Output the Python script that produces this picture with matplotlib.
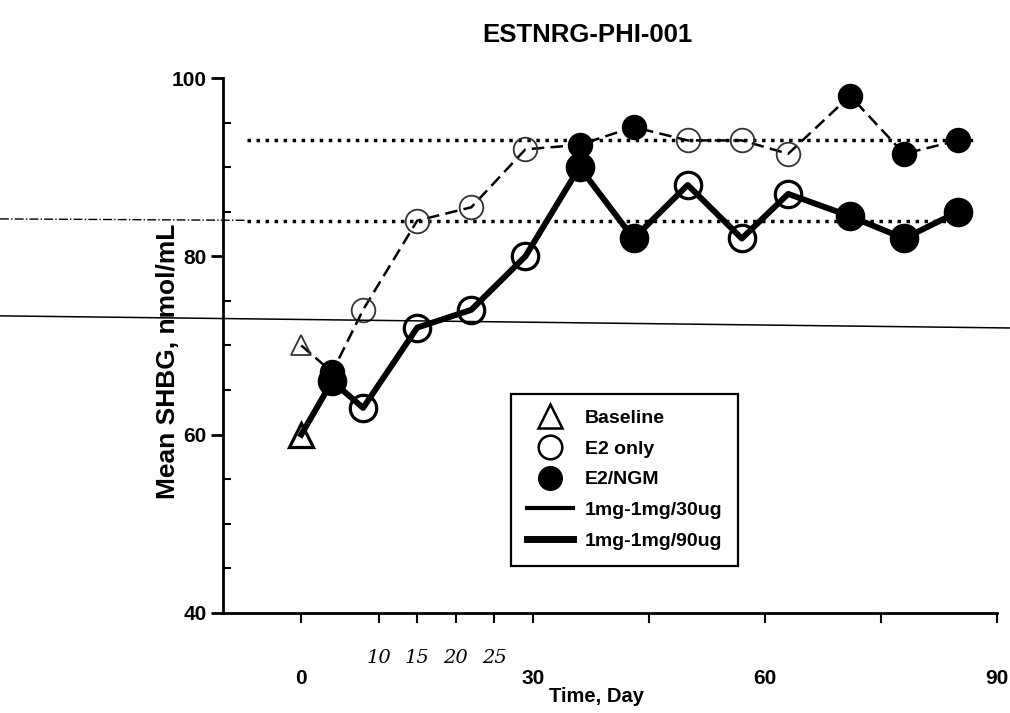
import matplotlib.pyplot as plt
from matplotlib.lines import Line2D

# study days and which regimen phase each visit falls in
days = [0, 4, 8, 15, 22, 29, 36, 43, 50, 57, 63, 71, 78, 85]
phase = ['base', 'ngm', 'e2', 'e2', 'e2', 'e2', 'ngm', 'ngm',
         'e2', 'e2', 'e2', 'ngm', 'ngm', 'ngm']

# mean SHBG, nmol/mL
shbg_30ug = [70, 67, 74, 84, 85.5, 92, 92.5, 94.5, 93, 93, 91.5, 98, 91.5, 93]
shbg_90ug = [60, 66, 63, 72, 74, 80, 90, 82, 88, 82, 87, 84.5, 82, 85]

# dotted reference levels
ref_30ug = 93
ref_90ug = 84
ref_30ug_days = [-7, 87]
ref_90ug_days = [-7, 84]

xticks = [0, 10, 15, 20, 25, 30, 45, 60, 75, 90]
xtick_labels = ['0', '', '', '', '', '30', '', '60', '', '90']
hand_ticks = [10, 15, 20, 25]
hand_labels = ['10', '15', '20', '25']

plt.rcParams['font.family'] = ['Liberation Sans', 'DejaVu Sans']

fig = plt.figure(figsize=(10.1, 7.13), dpi=100)
ax = fig.add_axes([0.221, 0.1403, 0.766, 0.7503])


def draw_series(vals, lw, ms, mew, ec, z, ls='-'):
    ax.plot(days, vals, color='black', lw=lw, ls=ls, zorder=z)
    for d, v, p in zip(days, vals, phase):
        if p == 'base':
            ax.plot(d, v, marker='^', ms=ms - 2, mfc='none', mec=ec, mew=mew, zorder=z + 1)
        elif p == 'e2':
            ax.plot(d, v, marker='o', ms=ms, mfc='none', mec=ec, mew=mew, zorder=z + 1)
        else:
            ax.plot(d, v, marker='o', ms=ms, mfc='black', mec='black', mew=mew, zorder=z + 1)


ax.plot(ref_30ug_days, [ref_30ug, ref_30ug], color='black', lw=2.5, ls=(0, (1, 1.6)), zorder=2)
ax.plot(ref_90ug_days, [ref_90ug, ref_90ug], color='black', lw=2.5, ls=(0, (1, 1.6)), zorder=2)

draw_series(shbg_30ug, 1.8, 17, 1.3, '#333333', 3, ls=(0, (5, 2.5)))
draw_series(shbg_90ug, 4.3, 19, 2.3, 'black', 5)

ax.set_xlim(-10.1, 90)
ax.set_ylim(40, 100)
ax.spines['top'].set_visible(False)
ax.spines['right'].set_visible(False)
ax.spines['left'].set_linewidth(2)
ax.spines['bottom'].set_linewidth(2)

ax.set_yticks([40, 60, 80, 100])
ax.set_yticks(range(45, 100, 5), minor=True)
ax.tick_params(axis='y', which='major', direction='out', length=9, width=2, pad=3, labelsize=15)
ax.tick_params(axis='y', which='minor', direction='in', length=6, width=1.5)
ax.set_xticks(xticks)
ax.set_xticklabels(xtick_labels)
ax.tick_params(axis='x', direction='out', length=7, width=1.5, pad=33, labelsize=15)
for lab in ax.get_xticklabels() + ax.get_yticklabels():
    lab.set_fontweight('bold')

for t, s in zip(hand_ticks, hand_labels):
    ax.text(t, -0.085, s, transform=ax.get_xaxis_transform(), ha='center', va='center',
            fontsize=14, fontstyle='italic', family='DejaVu Serif')

ax.set_xlabel('Time, Day', fontsize=14.5, fontweight='bold')
ax.xaxis.set_label_coords(0.482, -0.138)
ax.set_ylabel('Mean SHBG, nmol/mL', fontsize=19, fontweight='bold')
ax.yaxis.set_label_coords(-0.056, 0.47)

fig.text(0.582, 0.951, 'ESTNRG-PHI-001', ha='center', va='center', fontsize=18.5, fontweight='bold')

handles = [
    Line2D([], [], ls='none', marker='^', ms=17, mfc='none', mec='black', mew=1.8),
    Line2D([], [], ls='none', marker='o', ms=17, mfc='none', mec='black', mew=1.8),
    Line2D([], [], ls='none', marker='o', ms=17, mfc='black', mec='black'),
    Line2D([], [], color='black', lw=3),
    Line2D([], [], color='black', lw=5),
]
labels = ['Baseline', 'E2 only', 'E2/NGM', '1mg-1mg/30ug', '1mg-1mg/90ug']
leg = ax.legend(handles, labels, loc='upper left', bbox_to_anchor=(0.372, 0.41),
                handlelength=2.4, handletextpad=0.6, labelspacing=0.68,
                borderpad=0.8, borderaxespad=0, fancybox=False, framealpha=1,
                edgecolor='black', prop={'weight': 'bold', 'size': 14})
leg.get_frame().set_linewidth(1.6)
leg.set_zorder(10)

# ruled lines that run across the scanned page
fig.add_artist(Line2D([0, 1], [0.557, 0.540], color='black', lw=1.1))
fig.add_artist(Line2D([0, 0.243], [0.693, 0.691], color='black', lw=1, ls='-.'))

fig.savefig('out.png', dpi=100)
